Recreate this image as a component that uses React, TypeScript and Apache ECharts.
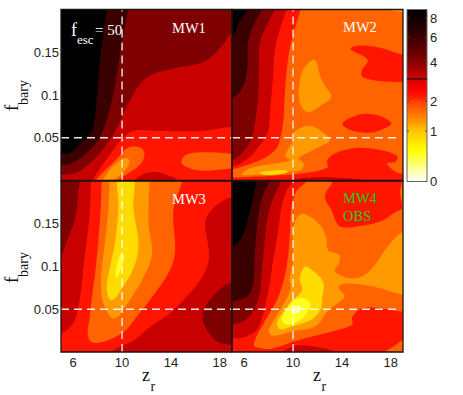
import React, { useEffect, useRef } from "react";
import * as echarts from "echarts";

type Pt = [number, number];
type Band = [number, Pt[]];

const LEVEL_COLORS = ["#000000", "#3a0000", "#7f0000", "#c80000", "#ff1500", "#ff6400", "#ff9b00", "#ffdc00", "#ffff20", "#ffffa0"];
const PANEL_NAMES = ["MW1", "MW2", "MW3", "MW4"];
const PANEL_BACKGROUND = [3, 5, 3, 4];

const MW1_BANDS: Band[] = [
  [2, [[4, .21], [20, .21], [20, .172], [19, .172], [18.3, .16], [17.5, .147], [16.4, .137], [14.2, .131], [12.3, .123], [11.5, .113], [10.8, .098], [10.1, .078], [9.5, .059], [8.4, .036], [7.2, .018], [6.1, .0084], [5, .0065], [4, .0065]]],
  [1, [[4, .21], [10.5, .21], [10.5, .2], [9.97, .16], [9.3, .102], [8.75, .071], [8.2, .051], [7.87, .044], [6.78, .028], [5.82, .02], [5, .018], [4, .018]]],
  [0, [[4, .21], [8.8, .21], [8.74, .2], [8.2, .141], [7.92, .094], [7.6, .059], [7.32, .053], [6.64, .044], [5.68, .032], [5, .032], [4, .032]]],
  [4, [[7.4, -.01], [7.6, 0], [8.4, .018], [9.5, .04], [10.05, .049], [10.87, .058], [12.9, .058], [16.5, .058], [19, .063], [20, .063], [20, -.01]]],
  [3, [[11, -.006], [11, 0], [11.83, .008], [12.65, .01], [13.74, .0064], [14.56, 0], [14.56, -.006]]],
  [5, [[7.85, -.006], [7.85, 0], [9.5, .024], [10.46, .038], [11.42, .039], [11.83, .032], [11.56, .02], [10.46, .008], [9.64, 0], [9.64, -.006]]],
  [5, [[14.84, .022], [15.25, .03], [16.48, .033], [18.66, .032], [19, .031], [20, .031], [20, .014], [19, .014], [17, .0115], [15.8, .013], [15, .018]]],
  [6, [[8.42, -.006], [8.42, 0], [9.37, .018], [10.2, .026], [10.6, .024], [10.46, .016], [9.64, .004], [9.23, 0], [9.23, -.006]]],
];

const MW2_BANDS: Band[] = [
  [4, [[4, .21], [10.6, .21], [10.6, .2], [10.1, .176], [9.7, .152], [9.45, .125], [9.3, .094], [9.18, .067], [8.83, .043], [8.42, .034], [7.32, .024], [6.23, .018], [5, .013], [4, .013]]],
  [3, [[4, .21], [9.45, .21], [9.45, .2], [8.9, .176], [8.5, .152], [8.36, .121], [8.1, .078], [8, .059], [7.73, .051], [7.32, .042], [6.5, .028], [5.68, .02], [5, .017], [4, .017]]],
  [2, [[4, .21], [8.5, .21], [8.5, .2], [7.8, .18], [7.27, .16], [7.2, .133], [7.13, .094], [6.78, .059], [6.64, .049], [5.82, .032], [5, .024], [4, .024]]],
  [1, [[4, .21], [7.4, .21], [7.4, .2], [6.7, .18], [6.3, .16], [6.26, .133], [5.9, .11], [5, .096], [4, .096]]],
  [0, [[4, .21], [6.5, .21], [6.3, .2], [5.6, .186], [5, .168], [4, .168]]],
  [4, [[14.7, .154], [15.6, .158], [17.2, .155], [19, .147], [20, .147], [20, .115], [19, .115], [17.2, .116], [15.7, .121], [15.6, .128], [16.1, .141]]],
  [4, [[14.05, .067], [14.8, .074], [15.9, .078], [17.2, .075], [18.05, .067], [17.5, .061], [16.4, .056], [15.2, .057], [14.4, .061]]],
  [4, [[4, .0035], [5, .0035], [6.64, .0045], [7.73, .005], [10.46, .008], [12.8, .015], [12.8, .024], [13.47, .032], [15.1, .038], [17, .036], [18.5, .029], [18.4, .022], [17.7, .02], [18.4, .01], [19.07, .008], [20, .008], [20, -.01], [4, -.01]]],
  [3, [[9.9, -.005], [9.9, 0], [11.83, .004], [14, .0033], [15.9, .001], [17, 0], [17, -.005]]],
  [6, [[11.64, .1416], [11.9, .139], [12.2, .123], [12.6, .111], [13.14, .098], [12.3, .088], [11.37, .08], [10.8, .084], [10.46, .101], [10.8, .129]]],
  [6, [[10, .055], [10.55, .061], [11.37, .064], [12.2, .059], [13, .047], [12.24, .04], [11.4, .034], [10.46, .026], [10.87, .02], [10.6, .012], [9.1, .01], [7.73, .008], [5.82, .0065], [6.23, .013], [7.73, .018], [9.1, .021], [9.78, .024], [9.37, .028], [9.64, .038], [10.05, .048]]],
  [6, [[17.9, .21], [17.9, .2], [19, .197], [20, .197], [20, .21]]],
  [7, [[7.2, .009], [8.3, .0115], [9.5, .0115], [9.5, .009], [8.3, .0065], [7.5, .007]]],
];

const MW3_BANDS: Band[] = [
  [4, [[7.43, .21], [7.43, .2], [7.38, .168], [7.1, .129], [6.83, .098], [6.64, .0725], [6.23, .041], [5.68, .028], [5, .022], [4, .022], [4, -.01], [9.1, -.01], [9.1, 0], [11, .014], [12.37, .03], [13.9, .045], [15.3, .065], [16.4, .084], [17.06, .104], [17.06, .123], [16.8, .151], [17.2, .164], [18.16, .176], [19.2, .182], [20, .182], [20, .21]]],
  [2, [[4, .21], [6.42, .21], [6.42, .188], [6.15, .156], [5.46, .129], [5.05, .115], [4, .115]]],
  [2, [[20, .082], [19.2, .082], [18.16, .075], [17.2, .061], [16.57, .043], [16.93, .026], [17.87, .012], [19.2, .008], [20, .008]]],
  [5, [[8.33, .21], [8.33, .2], [8.25, .168], [8.05, .129], [7.78, .09], [7.6, .0725], [7.32, .037], [7.18, .024], [7.46, .012], [8.5, .012], [10.18, .024], [11.28, .043], [12.29, .061], [13.93, .096], [14.34, .119], [14.2, .166], [14.93, .2], [14.93, .21]]],
  [6, [[8.96, .21], [8.96, .2], [8.88, .168], [8.6, .129], [8.28, .09], [8.28, .0725], [8.41, .059], [9.1, .04], [9.64, .041], [10.18, .051], [11, .069], [11.48, .08], [12.43, .113], [12.16, .152], [12.24, .2], [12.24, .21]]],
  [7, [[9.7, .21], [9.7, .168], [9.43, .129], [8.88, .09], [8.74, .074], [9.02, .061], [9.43, .063], [9.97, .074], [10.93, .098], [11.34, .125], [10.93, .168], [10.93, .21]]],
  [8, [[9.7, .108], [9.97, .116], [10.16, .112], [9.97, .1], [9.56, .086], [9.48, .094]]],
];

const MW4_BANDS: Band[] = [
  [5, [[11.1, .21], [11.1, .2], [10.27, .188], [9.86, .168], [9.7, .129], [9.45, .098], [9, .0725], [8.55, .057], [7.73, .037], [6.78, .008], [7.46, .004], [8.28, .004], [10.46, .014], [13.2, .024], [14.84, .032], [14.84, .041], [15.66, .051], [17.3, .051], [19, .047], [20, .047], [20, .21]]],
  [4, [[13.27, .21], [13.27, .2], [12.6, .182], [13.14, .166], [13.82, .147], [15.3, .147], [17.2, .153], [18.3, .163], [18.9, .168], [18.75, .185], [18.74, .21]]],
  [5, [[20, .014], [19, .014], [18.4, .008], [17.57, 0], [17.57, -.01], [20, -.01]]],
  [6, [[10.82, .162], [12.18, .149], [12.73, .133], [12.87, .119], [13.82, .113], [13.69, .102], [13.4, .096], [13.82, .09], [14.9, .086], [15.87, .09], [16.83, .104], [17.5, .119], [19, .141], [20, .141], [20, .067], [19, .067], [16.7, .076], [14.8, .08], [13.82, .078], [13.82, .0725], [14.23, .065], [12.92, .049], [11.83, .03], [9.92, .024], [8.42, .019], [8, .024], [8.42, .037], [9.1, .053], [9.78, .0725], [9.73, .086], [10, .106], [10, .141], [10.27, .156]]],
  [3, [[9.1, -.006], [9.1, 0], [10.46, .008], [11.83, .006], [13.47, 0], [13.47, -.006]]],
  [3, [[4, .21], [10, .21], [10, .2], [9.45, .188], [9.04, .168], [8.77, .141], [8.36, .106], [8, .0725], [7.73, .055], [7.32, .034], [6.9, .024], [5.96, .017], [5, .016], [4, .016]]],
  [2, [[4, .21], [9.04, .21], [9.04, .2], [8.5, .184], [7.95, .16], [7.68, .129], [7.4, .086], [7.32, .0725], [7.05, .057], [6.5, .043], [5.82, .035], [5, .032], [4, .032]]],
  [1, [[4, .21], [8.1, .21], [8.1, .2], [7.54, .184], [7.13, .156], [6.86, .113], [6.72, .078], [6.23, .065], [5, .059], [4, .059]]],
  [0, [[4, .21], [7, .21], [7, .2], [6.72, .18], [5.9, .137], [5, .123], [4, .123]]],
  [7, [[10.96, .1], [11.37, .098], [12.46, .082], [12.38, .063], [12.24, .049], [11.42, .037], [9.92, .03], [8.96, .0265], [8.69, .034], [9.23, .047], [10.2, .063], [10.74, .0725], [10.55, .086]]],
  [8, [[10.05, .061], [10.87, .063], [11.42, .057], [11.28, .049], [10.6, .037], [9.64, .032], [9.23, .034], [9.1, .039], [9.5, .051]]],
  [9, [[10.05, .053], [10.6, .054], [10.6, .049], [10.05, .043], [9.86, .047]]],
];

const ALL_BANDS = [MW1_BANDS, MW2_BANDS, MW3_BANDS, MW4_BANDS];
const X_TICKS = [6, 10, 14, 18];
const Y_TICKS = [0.05, 0.1, 0.15];
const REF_Z = 10;
const REF_F = 0.05;
const DASH_END = [19, 18.6, 19, 18.6];
const COLORBAR_TICKS = ["8", "6", "4", "2", "1", "0"];

const PANEL_W = 171;
const PANEL_H = 171;
const PANEL_POS = [[61, 9.5], [232, 9.5], [61, 181], [232, 181]];
const COLORBAR_TICK_Y = [18, 37, 62, 101, 131, 181.5];
const COLORBAR_STOPS: [number, string][] = [
  [0, "#000000"], [0.12, "#2c0000"], [0.25, "#680000"], [0.36, "#b00000"], [0.42, "#e00000"], [0.47, "#ff0000"],
  [0.515, "#ff2000"], [0.53, "#ff3c00"], [0.64, "#ff8c00"], [0.7, "#ffc000"], [0.75, "#ffdc00"], [0.82, "#ffff00"], [0.9, "#ffff70"], [1, "#ffffff"],
];

const SERIF = "'Liberation Serif', serif";
const SANS = "'Liberation Sans', sans-serif";

function label(text: string, x: number, y: number, size: number, fill: string, family = SERIF, rotation = 0) {
  return {
    type: "text", x, y, rotation, z: 100, silent: true,
    style: { text, fill, font: `${size}px ${family}`, align: "left", verticalAlign: "middle" },
  };
}

function buildOption() {
  const grid = PANEL_POS.map(([left, top]) => ({ left, top, width: PANEL_W, height: PANEL_H, show: false }));
  const xAxis = PANEL_POS.map((_, i) => ({
    gridIndex: i, type: "value", min: 5, max: 19, interval: 1,
    axisLine: { show: false }, axisTick: { show: false }, splitLine: { show: false },
    axisLabel: {
      show: i >= 2, color: "#222", fontFamily: SANS, fontSize: 13, margin: 4, hideOverlap: false,
      formatter: (v: number) => (X_TICKS.includes(v) ? String(v) : ""),
    },
  }));
  const yAxis = PANEL_POS.map((_, i) => ({
    gridIndex: i, type: "value", min: 0, max: 0.2, interval: 0.05,
    axisLine: { show: false }, axisTick: { show: false }, splitLine: { show: false },
    axisLabel: {
      show: i % 2 === 0, color: "#222", fontFamily: SANS, fontSize: 13, margin: 2,
      formatter: (v: number) => (Y_TICKS.some((t) => Math.abs(t - v) < 1e-6) ? String(+v.toFixed(2)) : ""),
    },
  }));

  const series: any[] = [];
  ALL_BANDS.forEach((bands, p) => {
    series.push({
      type: "custom", name: PANEL_NAMES[p], xAxisIndex: p, yAxisIndex: p, clip: true, silent: true, z: 2,
      data: bands.map((b, i) => [b[1][0][0], b[1][0][1], i]),
      encode: { x: 0, y: 1 },
      renderItem: (params: any, api: any) => {
        const [level, ring] = bands[params.dataIndex];
        return {
          type: "polygon",
          shape: { points: ring.map((pt) => api.coord(pt)), smooth: 0.35 },
          style: { fill: LEVEL_COLORS[level] },
        };
      },
    });
    const dash = { type: [8, 5], color: "#ffffff", width: 1.4, opacity: 0.9 };
    series.push({
      type: "line", xAxisIndex: p, yAxisIndex: p, z: 5, symbol: "none", silent: true, lineStyle: dash,
      data: [[REF_Z, 0], [REF_Z, 0.2]],
    });
    series.push({
      type: "line", xAxisIndex: p, yAxisIndex: p, z: 5, symbol: "none", silent: true, lineStyle: dash,
      data: [[5, REF_F], [DASH_END[p], REF_F]],
    });
  });

  const graphic: any[] = [];
  PANEL_POS.forEach(([left, top], p) => {
    graphic.push({
      type: "rect", z: -1, silent: true,
      shape: { x: left, y: top, width: PANEL_W, height: PANEL_H },
      style: { fill: LEVEL_COLORS[PANEL_BACKGROUND[p]] },
    });
    graphic.push({
      type: "rect", z: 90, silent: true,
      shape: { x: left, y: top, width: PANEL_W, height: PANEL_H },
      style: { fill: "none", stroke: "#1c1410", lineWidth: 1.3 },
    });
  });

  graphic.push(label("f", 71, 30, 18, "#ffffff"));
  graphic.push(label("esc", 77, 39, 13, "#ffffff"));
  graphic.push(label("= 50", 95, 30, 15, "#ffffff"));
  graphic.push(label("MW1", 172, 28, 14.5, "#ffffff"));
  graphic.push(label("MW2", 343, 27, 14.5, "#ffffff"));
  graphic.push(label("MW3", 172, 199, 14.5, "#ffffff"));
  graphic.push(label("MW4", 343, 198, 14.5, "#18d018"));
  graphic.push(label("OBS", 343, 216, 14.5, "#18d018"));

  [0, 172].forEach((dy) => {
    graphic.push(label("f", 11, 111 + dy, 19, "#111", SERIF, Math.PI / 2));
    graphic.push(label("bary", 23, 105 + dy, 14, "#111", SERIF, Math.PI / 2));
  });
  [0, 171].forEach((dx) => {
    graphic.push(label("z", 142 + dx, 375, 18, "#111"));
    graphic.push(label("r", 150.5 + dx, 386, 14, "#111"));
  });

  graphic.push({
    type: "rect", z: 50, silent: true,
    shape: { x: 407, y: 9.5, width: 20, height: 172 },
    style: {
      fill: new echarts.graphic.LinearGradient(0, 0, 0, 1, COLORBAR_STOPS.map(([offset, color]) => ({ offset, color }))),
      stroke: "#666", lineWidth: 1,
    },
  });
  graphic.push({
    type: "line", z: 51, silent: true,
    shape: { x1: 407, y1: 79, x2: 427, y2: 79 },
    style: { stroke: "#000", lineWidth: 1 },
  });
  COLORBAR_TICKS.forEach((t, i) => {
    const y = COLORBAR_TICK_Y[i];
    graphic.push(label(t, 430, y, 13, "#222", SANS));
    graphic.push({ type: "line", z: 51, silent: true, shape: { x1: 425, y1: y, x2: 427, y2: y }, style: { stroke: "#444", lineWidth: 1 } });
    graphic.push({ type: "line", z: 51, silent: true, shape: { x1: 407, y1: y, x2: 409, y2: y }, style: { stroke: "#444", lineWidth: 1 } });
  });

  return { animation: false, backgroundColor: "#ffffff", grid, xAxis, yAxis, series, graphic };
}

export default function App() {
  const ref = useRef<HTMLDivElement>(null);
  useEffect(() => {
    const chart = echarts.init(ref.current!, undefined, { renderer: "svg" });
    chart.setOption(buildOption() as any);
    return () => chart.dispose();
  }, []);
  return <div ref={ref} style={{ position: "fixed", left: 0, top: 0, width: 463, height: 395 }} />;
}
